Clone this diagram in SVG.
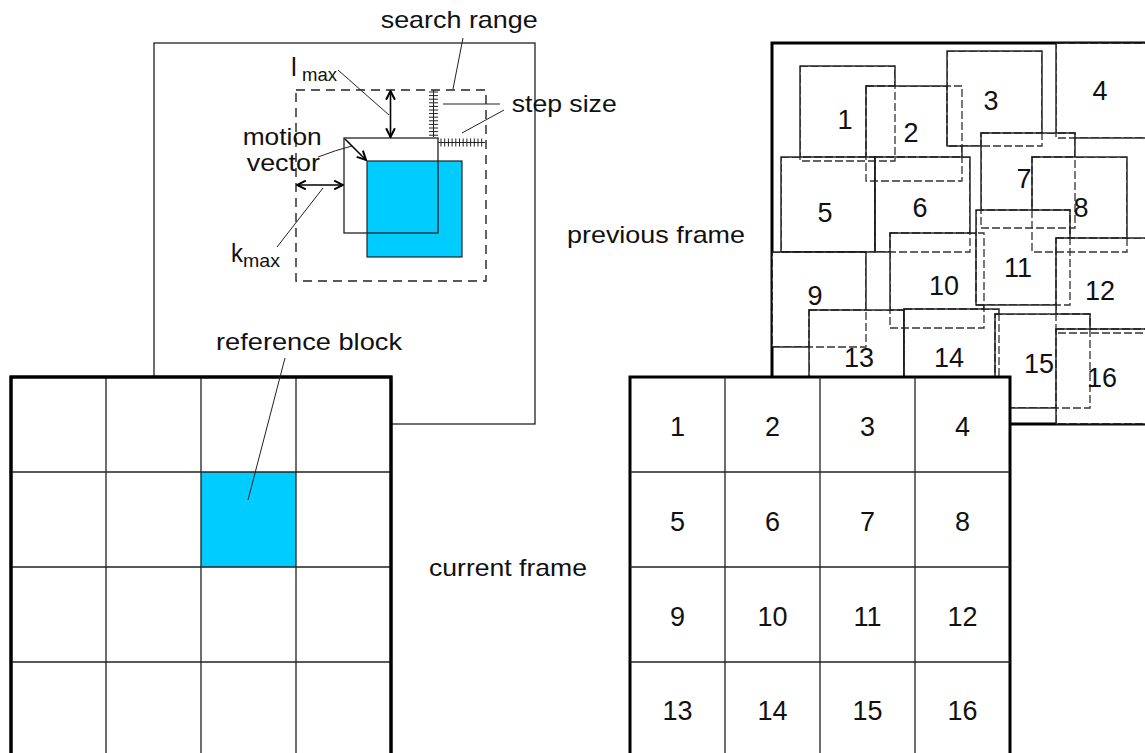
<svg xmlns="http://www.w3.org/2000/svg" width="1145" height="753" viewBox="0 0 1145 753">
  <style>
    text { font-family: "Liberation Sans", Arial, sans-serif; fill: #111; }
    .lbl { font-size: 24px; }
    .sub { font-size: 19px; }
    .num { font-size: 27px; text-anchor: middle; }
    .thin { fill: none; stroke: #222; stroke-width: 1.3; }
    .thick { fill: #fff; stroke: #000; stroke-width: 3; }
    .grid { fill: none; stroke: #222; stroke-width: 1.3; }
    .dash { fill: none; stroke: #222; stroke-width: 1.4; stroke-dasharray: 9 6; }
    .lead { fill: none; stroke: #222; stroke-width: 1; }
    .arrow { fill: none; stroke: #000; stroke-width: 1.6; }
    .tick { fill: none; stroke: #222; stroke-width: 1; }
    .cover { fill: #fff; stroke: none; }
    .edge { fill: none; stroke: #1a1a1a; stroke-width: 1.4; }
    .hid { fill: none; stroke: #333; stroke-width: 1.3; stroke-dasharray: 8 3; }
    .blue { fill: #00CCFF; stroke: #222; stroke-width: 1.2; }
  </style>
  <defs>
    <marker id="head" viewBox="0 0 10 10" refX="9" refY="5" markerWidth="11" markerHeight="11" markerUnits="userSpaceOnUse" orient="auto-start-reverse">
      <path d="M1,1 L9,5 L1,9" fill="none" stroke="#000" stroke-width="1.8"/>
    </marker>
    <!-- outlines of every displaced block, shown dashed wherever a later block covers them -->
    <g id="hid">
      <rect class="hid" x="772" y="43" width="380" height="381"/>
      <rect class="hid" x="800" y="66" width="95" height="95"/>
      <rect class="hid" x="866" y="86" width="96" height="95"/>
      <rect class="hid" x="947" y="51" width="95" height="95"/>
      <rect class="hid" x="1056" y="43" width="95" height="95"/>
      <rect class="hid" x="781" y="157" width="94" height="95"/>
      <rect class="hid" x="875" y="157" width="95" height="95"/>
      <rect class="hid" x="981" y="133" width="94" height="95"/>
      <rect class="hid" x="1032" y="157" width="95" height="95"/>
      <rect class="hid" x="772" y="252" width="94" height="95"/>
      <rect class="hid" x="890" y="233" width="94" height="95"/>
      <rect class="hid" x="976" y="210" width="94" height="95"/>
      <rect class="hid" x="1056" y="238" width="95" height="95"/>
      <rect class="hid" x="809" y="310" width="95" height="95"/>
      <rect class="hid" x="904" y="309" width="95" height="95"/>
      <rect class="hid" x="995" y="314" width="95" height="94"/>
      <rect class="hid" x="1056" y="329" width="95" height="95"/>
    </g>
    <clipPath id="c1"><rect x="800" y="66" width="95" height="95"/></clipPath>
    <clipPath id="c2"><rect x="866" y="86" width="96" height="95"/></clipPath>
    <clipPath id="c3"><rect x="947" y="51" width="95" height="95"/></clipPath>
    <clipPath id="c4"><rect x="1056" y="43" width="95" height="95"/></clipPath>
    <clipPath id="c5"><rect x="781" y="157" width="94" height="95"/></clipPath>
    <clipPath id="c6"><rect x="875" y="157" width="95" height="95"/></clipPath>
    <clipPath id="c7"><rect x="981" y="133" width="94" height="95"/></clipPath>
    <clipPath id="c8"><rect x="1032" y="157" width="95" height="95"/></clipPath>
    <clipPath id="c9"><rect x="772" y="252" width="94" height="95"/></clipPath>
    <clipPath id="c10"><rect x="890" y="233" width="94" height="95"/></clipPath>
    <clipPath id="c11"><rect x="976" y="210" width="94" height="95"/></clipPath>
    <clipPath id="c12"><rect x="1056" y="238" width="95" height="95"/></clipPath>
    <clipPath id="c13"><rect x="809" y="310" width="95" height="95"/></clipPath>
    <clipPath id="c14"><rect x="904" y="309" width="95" height="95"/></clipPath>
    <clipPath id="c15"><rect x="995" y="314" width="95" height="94"/></clipPath>
    <clipPath id="c16"><rect x="1056" y="329" width="95" height="95"/></clipPath>
  </defs>

  <rect width="1145" height="753" fill="#fff"/>

  <!-- search window around the reference block -->
  <g id="search-window">
    <rect class="thin" x="154" y="43" width="381" height="381"/>
  </g>
  <g id="search-range">
    <rect class="dash" x="296" y="90" width="190" height="191"/>
  </g>
  <g id="matched-block">
    <rect class="blue" x="367" y="161" width="95" height="96"/>
  </g>
  <g id="candidate-block">
    <rect class="thin" x="344" y="138" width="94" height="95"/>
  </g>

  <!-- step size rulers -->
  <g id="step-rulers">
    <path class="tick" d="M433.5,90 V137 M429,92 H438 M429,95.6 H438 M429,99.2 H438 M429,102.8 H438 M429,106.4 H438 M429,110 H438 M429,113.6 H438 M429,117.2 H438 M429,120.8 H438 M429,124.4 H438 M429,128 H438 M429,131.6 H438 M429,135.2 H438"/>
    <path class="tick" d="M438,142.5 H485 M441,138.5 V146.5 M444.7,138.5 V146.5 M448.4,138.5 V146.5 M452.1,138.5 V146.5 M455.8,138.5 V146.5 M459.5,138.5 V146.5 M463.2,138.5 V146.5 M466.9,138.5 V146.5 M470.6,138.5 V146.5 M474.3,138.5 V146.5 M478,138.5 V146.5 M481.7,138.5 V146.5"/>
  </g>

  <!-- connectors: dimension arrows and label leaders -->
  <g id="connectors">
    <path class="arrow" d="M390.5,91 V137" marker-start="url(#head)" marker-end="url(#head)"/>
    <path class="arrow" d="M297,185 H343" marker-start="url(#head)" marker-end="url(#head)"/>
    <path class="arrow" d="M345,139 L366,160" marker-end="url(#head)"/>
    <path class="lead" d="M463,38 L453,89"/>
    <path class="lead" d="M338,70 L389,115"/>
    <path class="lead" d="M443,104 H500"/>
    <path class="lead" d="M504,110 L462,133"/>
    <path class="lead" d="M318,157 Q336,150 352,146"/>
    <path class="lead" d="M277,247 L323,188"/>
  </g>

  <!-- labels of the search window -->
  <g id="labels-search">
    <text class="lbl" x="380.7" y="28" textLength="157" lengthAdjust="spacingAndGlyphs">search range</text>
    <text class="lbl" x="511.7" y="112" textLength="105" lengthAdjust="spacingAndGlyphs">step size</text>
    <text class="lbl" x="242.7" y="145" textLength="79" lengthAdjust="spacingAndGlyphs">motion</text>
    <text class="lbl" x="246.7" y="171" textLength="73.3" lengthAdjust="spacingAndGlyphs">vector</text>
    <text x="291" y="76" style="font-size:26px">l</text>
    <text class="sub" x="302" y="81" textLength="35" lengthAdjust="spacingAndGlyphs">max</text>
    <text x="231" y="262" style="font-size:26px" textLength="12" lengthAdjust="spacingAndGlyphs">k</text>
    <text class="sub" x="243" y="267" textLength="37" lengthAdjust="spacingAndGlyphs">max</text>
  </g>

  <!-- current frame (left view) with the reference block -->
  <g id="current-frame-left">
    <rect class="thick" x="11" y="377" width="380" height="380"/>
    <rect fill="#00CCFF" x="201" y="472" width="95" height="95"/>
    <path class="grid" d="M106,377 V757 M201,377 V757 M296,377 V757 M11,472 H391 M11,567 H391 M11,662 H391"/>
    <rect fill="none" stroke="#000" stroke-width="3" x="11" y="377" width="380" height="380"/>
  </g>
  <g id="reference-leader">
    <path class="lead" d="M285,358 L248,500"/>
    <text class="lbl" x="216" y="350" textLength="186" lengthAdjust="spacingAndGlyphs">reference block</text>
  </g>

  <!-- previous frame with the displaced blocks, drawn in order; covered edges become dashed -->
  <g id="previous-frame">
    <rect class="thick" x="772" y="43" width="380" height="381"/>
    <g id="pb1"><rect class="cover" x="800" y="66" width="95" height="95"/><use href="#hid" clip-path="url(#c1)"/><rect class="edge" x="800" y="66" width="95" height="95"/><text class="num" x="845" y="129">1</text></g>
    <g id="pb2"><rect class="cover" x="866" y="86" width="96" height="95"/><use href="#hid" clip-path="url(#c2)"/><rect class="edge" x="866" y="86" width="96" height="95"/><text class="num" x="911" y="142">2</text></g>
    <g id="pb3"><rect class="cover" x="947" y="51" width="95" height="95"/><use href="#hid" clip-path="url(#c3)"/><rect class="edge" x="947" y="51" width="95" height="95"/><text class="num" x="991" y="110">3</text></g>
    <g id="pb4"><rect class="cover" x="1056" y="43" width="95" height="95"/><use href="#hid" clip-path="url(#c4)"/><rect class="edge" x="1056" y="43" width="95" height="95"/><text class="num" x="1100" y="100">4</text></g>
    <g id="pb5"><rect class="cover" x="781" y="157" width="94" height="95"/><use href="#hid" clip-path="url(#c5)"/><rect class="edge" x="781" y="157" width="94" height="95"/><text class="num" x="825" y="222">5</text></g>
    <g id="pb6"><rect class="cover" x="875" y="157" width="95" height="95"/><use href="#hid" clip-path="url(#c6)"/><rect class="edge" x="875" y="157" width="95" height="95"/><text class="num" x="920" y="217">6</text></g>
    <g id="pb7"><rect class="cover" x="981" y="133" width="94" height="95"/><use href="#hid" clip-path="url(#c7)"/><rect class="edge" x="981" y="133" width="94" height="95"/><text class="num" x="1024" y="188">7</text></g>
    <g id="pb8"><rect class="cover" x="1032" y="157" width="95" height="95"/><use href="#hid" clip-path="url(#c8)"/><rect class="edge" x="1032" y="157" width="95" height="95"/><text class="num" x="1081" y="217">8</text></g>
    <g id="pb9"><rect class="cover" x="772" y="252" width="94" height="95"/><use href="#hid" clip-path="url(#c9)"/><rect class="edge" x="772" y="252" width="94" height="95"/><text class="num" x="815" y="305">9</text></g>
    <g id="pb10"><rect class="cover" x="890" y="233" width="94" height="95"/><use href="#hid" clip-path="url(#c10)"/><rect class="edge" x="890" y="233" width="94" height="95"/><text class="num" x="944" y="295">10</text></g>
    <g id="pb11"><rect class="cover" x="976" y="210" width="94" height="95"/><use href="#hid" clip-path="url(#c11)"/><rect class="edge" x="976" y="210" width="94" height="95"/><text class="num" x="1018" y="277">11</text></g>
    <g id="pb12"><rect class="cover" x="1056" y="238" width="95" height="95"/><use href="#hid" clip-path="url(#c12)"/><rect class="edge" x="1056" y="238" width="95" height="95"/><text class="num" x="1100" y="300">12</text></g>
    <g id="pb13"><rect class="cover" x="809" y="310" width="95" height="95"/><use href="#hid" clip-path="url(#c13)"/><rect class="edge" x="809" y="310" width="95" height="95"/><text class="num" x="859" y="367">13</text></g>
    <g id="pb14"><rect class="cover" x="904" y="309" width="95" height="95"/><use href="#hid" clip-path="url(#c14)"/><rect class="edge" x="904" y="309" width="95" height="95"/><text class="num" x="949" y="367">14</text></g>
    <g id="pb15"><rect class="cover" x="995" y="314" width="95" height="94"/><use href="#hid" clip-path="url(#c15)"/><rect class="edge" x="995" y="314" width="95" height="94"/><text class="num" x="1039" y="373">15</text></g>
    <g id="pb16"><rect class="cover" x="1056" y="329" width="95" height="95"/><use href="#hid" clip-path="url(#c16)"/><rect class="edge" x="1056" y="329" width="95" height="95"/><text class="num" x="1102" y="387">16</text></g>
  </g>

  <!-- current frame (right view) with numbered blocks -->
  <g id="current-frame-right">
    <rect class="thick" x="630" y="377" width="380" height="380"/>
    <path class="grid" d="M725,377 V757 M820,377 V757 M915,377 V757 M630,472 H1010 M630,567 H1010 M630,662 H1010"/>
    <g id="cf-numbers">
      <text class="num" x="677.5" y="436">1</text>
      <text class="num" x="772.5" y="436">2</text>
      <text class="num" x="867.5" y="436">3</text>
      <text class="num" x="962.5" y="436">4</text>
      <text class="num" x="677.5" y="531">5</text>
      <text class="num" x="772.5" y="531">6</text>
      <text class="num" x="867.5" y="531">7</text>
      <text class="num" x="962.5" y="531">8</text>
      <text class="num" x="677.5" y="626">9</text>
      <text class="num" x="772.5" y="626">10</text>
      <text class="num" x="867.5" y="626">11</text>
      <text class="num" x="962.5" y="626">12</text>
      <text class="num" x="677.5" y="720">13</text>
      <text class="num" x="772.5" y="720">14</text>
      <text class="num" x="867.5" y="720">15</text>
      <text class="num" x="962.5" y="720">16</text>
    </g>
  </g>

  <g id="frame-labels">
    <text class="lbl" x="567" y="243" textLength="178" lengthAdjust="spacingAndGlyphs">previous frame</text>
    <text class="lbl" x="429" y="576" textLength="158" lengthAdjust="spacingAndGlyphs">current frame</text>
  </g>
</svg>
